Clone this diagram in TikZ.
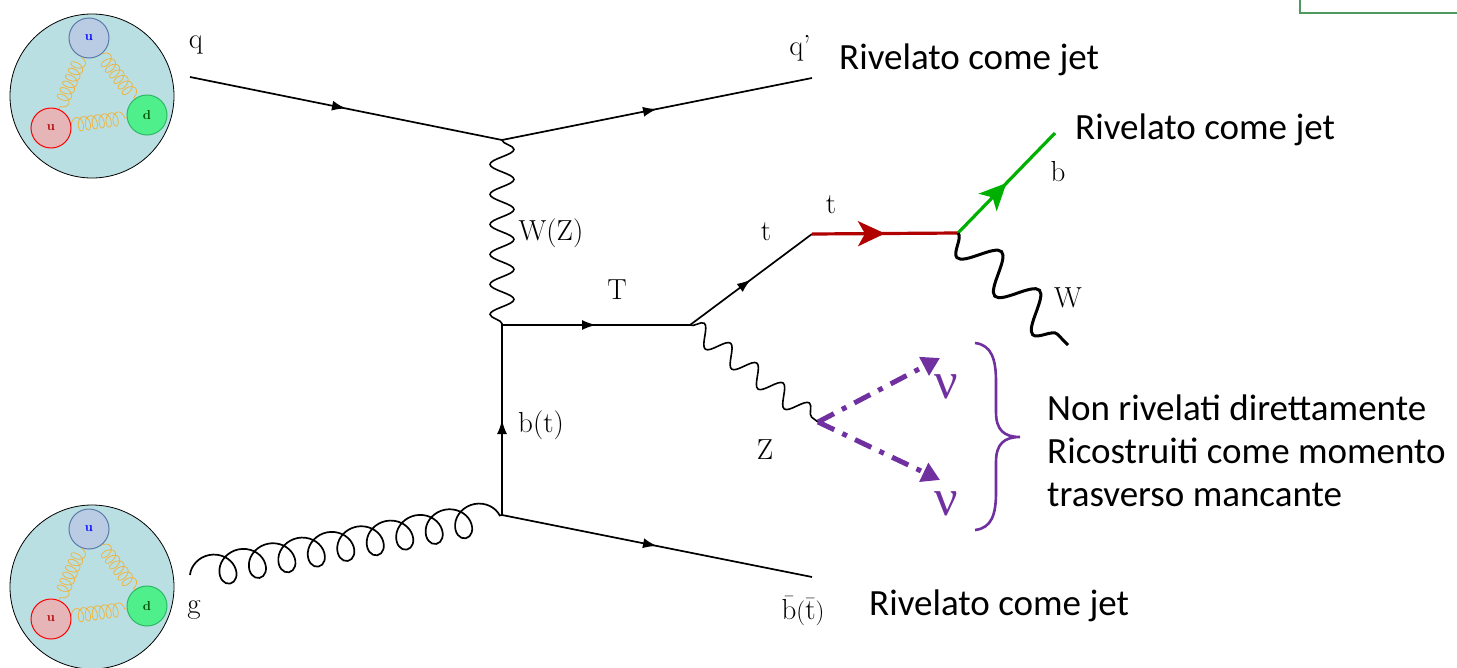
\documentclass[tikz,border=0pt]{standalone}
\usepackage{fontspec}
\newfontfamily\calib{Carlito}
\newfontfamily\greekserif{Liberation Serif}
\usetikzlibrary{decorations.pathmorphing,decorations.markings,arrows.meta}

\definecolor{bagfill}{HTML}{BADFE2}
\definecolor{ublue}{HTML}{B9CCE4}
\definecolor{ubluedraw}{HTML}{5A7AA8}
\definecolor{ured}{HTML}{E6B5B8}
\definecolor{dgreen}{HTML}{4FEF8C}
\definecolor{dgreendraw}{HTML}{2DB865}
\definecolor{springorange}{HTML}{F2B134}
\definecolor{topred}{HTML}{B00000}
\definecolor{bgreen}{HTML}{00B000}
\definecolor{nupurple}{HTML}{7030A0}
\definecolor{framegreen}{HTML}{4E9A5E}

\begin{document}
\begin{tikzpicture}[x=1pt,y=-1pt,
  lbl/.style={font=\fontsize{29}{32}\selectfont, inner sep=0pt},
  jet/.style={font=\calib\fontsize{37}{43}\selectfont, inner sep=0pt, anchor=west, align=left},
  nulbl/.style={font=\greekserif\fontsize{52}{52}\selectfont, text=nupurple, inner sep=0pt},
  midarrow/.style={postaction={decorate}, decoration={markings,
      mark=at position 0.5 with {\arrow{#1}}}},
  fermion/.style={line width=1.7pt, midarrow={Latex[length=14pt,width=10pt]}},
  boson/.style={line width=1.6pt, decorate, decoration={snake, amplitude=12pt, segment length=30pt}},
  heavyboson/.style={line width=3pt, decorate, decoration={snake, amplitude=18pt, segment length=54pt, mirror}},
  gluon/.style={line width=1.7pt, decorate, decoration={coil, amplitude=16pt, segment length=30pt, aspect=0.95}},
  spring/.style={draw=springorange, line width=0.7pt, decorate, decoration={coil, amplitude=7pt, segment length=7pt, aspect=0.6}},
  quark/.style={circle, minimum size=40pt, inner sep=0pt, line width=1pt, font=\fontsize{13}{14}\selectfont\bfseries},
  neutrino/.style={draw=nupurple, line width=5pt, dash pattern=on 18pt off 9pt on 5pt off 9pt, -{Triangle[length=18pt,width=20pt]}},
  proton/.pic={
    \node[circle, draw=black, line width=0.8pt, fill=bagfill, minimum size=164pt, inner sep=0pt] (-bag) at (0,0) {};
    \node[quark, fill=ublue, draw=ubluedraw, text=blue] (-ua) at (-3,-58) {u};
    \node[quark, fill=ured, draw=red, text=topred] (-ub) at (-41,32) {u};
    \node[quark, fill=dgreen, draw=dgreendraw, text=black!70!green] (-d) at (55,19) {d};
    \draw[spring] (-ua) -- (-ub);
    \draw[spring] (-ua) -- (-d);
    \draw[spring] (-ub) -- (-d);
  }]

\useasboundingbox (0,0) rectangle (1457,667);

% partial frame in the upper right corner
\draw[framegreen, line width=1.6pt] (1300,-4) -- (1300,13) -- (1460,13);

% incoming protons
\pic (ptop) at (92,96) {proton};
\pic (pbot) at (92,587) {proton};

% vertices and free ends
\coordinate (qin)  at (190,77);
\coordinate (v1)   at (502,140);
\coordinate (qout) at (812,78);
\coordinate (v2)   at (502,325);
\coordinate (v3)   at (502,515);
\coordinate (gin)  at (190,575);
\coordinate (bout) at (812,577);
\coordinate (vT)   at (690,325);
\coordinate (vt)   at (812,234);
\coordinate (vb)   at (958,233);
\coordinate (bend) at (1055,133);
\coordinate (Wend) at (1068,345);
\coordinate (vZ)   at (818,422);
\coordinate (nu1)  at (940,358);
\coordinate (nu2)  at (940,480);

% quark lines
\draw[fermion] (qin) -- (v1);
\draw[fermion] (v1) -- (qout);
\draw[fermion] (v3) -- (v2);
\draw[fermion] (v3) -- (bout);
\draw[fermion] (v2) -- (vT);
\draw[fermion] (vT) -- (vt);

% exchanged boson and gluon
\draw[boson] (v1) -- (v2);
\draw[gluon] (gin) -- (v3);

% top decay
\draw[line width=3.2pt, topred, midarrow={Stealth[length=27pt,width=25pt,inset=7pt]}] (vt) -- (vb);
\draw[line width=3.2pt, bgreen, midarrow={Stealth[length=27pt,width=25pt,inset=7pt]}] (vb) -- (bend);
\draw[heavyboson] (vb) -- (Wend);

% Z and neutrinos
\draw[boson, decoration={snake, amplitude=10pt, segment length=33pt}] (vT) -- (vZ);
\draw[neutrino] (vZ) -- (nu1);
\draw[neutrino] (vZ) -- (nu2);

% brace
\draw[nupurple, line width=2.6pt]
  (975,343) .. controls (992,345) and (996,360) .. (996,382)
  -- (996,412) .. controls (996,430) and (1004,437) .. (1020,437)
  .. controls (1004,437) and (996,444) .. (996,462)
  -- (996,492) .. controls (996,514) and (992,528) .. (975,530);

% particle labels
\node[lbl] (lq)   at (196,45)  {q};
\node[lbl] (lqp)  at (800,48)  {q'};
\node[lbl] (lg)   at (194,610) {g};
\node[lbl] (lWZ)  at (551,233) {W(Z)};
\node[lbl] (lT)   at (617,290) {T};
\node[lbl] (lbt)  at (541,425) {b(t)};
\node[lbl] (lt1)  at (766,232) {t};
\node[lbl] (lt2)  at (831,205) {t};
\node[lbl] (lb)   at (1058,172) {b};
\node[lbl] (lW)   at (1068,298) {W};
\node[lbl] (lZ)   at (765,450) {Z};
\node[lbl] (lbb)  at (803,611) {$\bar{\mathrm{b}}(\bar{\mathrm{t}})$};
\node[nulbl] (lnu1) at (946,387) {ν};
\node[nulbl] (lnu2) at (946,504) {ν};

% detector-level notes
\node[jet] (j1) at (839,60)  {Rivelato come jet};
\node[jet] (j2) at (1075,130) {Rivelato come jet};
\node[jet] (j3) at (869,606) {Rivelato come jet};
\node[jet] (miss) at (1047,451) {Non rivelati direttamente\\Ricostruiti come momento\\trasverso mancante};

\end{tikzpicture}
\end{document}
